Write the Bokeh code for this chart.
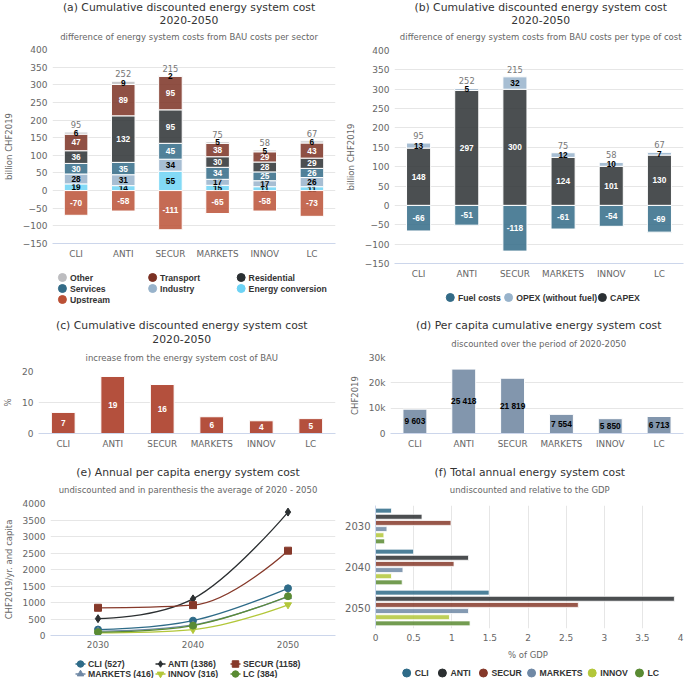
import numpy as np
from bokeh.plotting import figure
from bokeh.layouts import column, row
from bokeh.models import (ColumnDataSource, FactorRange, Range1d,
                          FixedTicker, CustomJSTickFormatter)
from bokeh.transform import dodge
from bokeh.core.properties import value
from bokeh.embed import file_html
from bokeh.resources import INLINE

# ---------------- data ----------------
scenarios = ["CLI", "ANTI", "SECUR", "MARKETS", "INNOV", "LC"]

# (a) difference from BAU per sector, billion CHF2019
energy_conversion = [19, 14, 55, 15, 11, 11]
industry = [28, 31, 34, 17, 17, 26]
services = [30, 35, 45, 34, 25, 26]
residential = [36, 132, 95, 30, 28, 29]
transport = [47, 89, 95, 38, 29, 43]
other = [6, 9, 2, 5, 5, 6]
upstream = [-70, -58, -111, -65, -58, -73]
totals = [95, 252, 215, 75, 58, 67]

# (b) difference from BAU per type of cost
capex = [148, 297, 300, 124, 101, 130]
opex = [13, 5, 32, 12, 10, 7]
fuel_costs = [-66, -51, -118, -61, -54, -69]

# (c) increase from BAU, %
increase_pct = [6.8, 18.4, 15.8, 5.4, 4.1, 4.8]
increase_labels = ["7", "19", "16", "6", "4", "5"]

# (d) per capita cumulative cost, CHF2019
per_capita = [9603, 25418, 21819, 7554, 5850, 6713]

# (e) annual per capita cost, CHF2019/yr
years = [2030, 2040, 2050]
annual_cli = [180, 450, 1430]
annual_anti = [510, 1110, 3740]
annual_secur = [840, 920, 2570]
annual_markets = [130, 320, 1180]
annual_innov = [80, 180, 930]
annual_lc = [100, 300, 1190]
avg_2020_2050 = [527, 1386, 1158, 416, 316, 384]

# (f) total annual cost, % of GDP
year_labels = ["2030", "2040", "2050"]
gdp_2030 = [0.21, 0.61, 0.99, 0.15, 0.11, 0.12]
gdp_2040 = [0.50, 1.22, 1.03, 0.36, 0.21, 0.35]
gdp_2050 = [1.49, 3.92, 2.66, 1.22, 0.97, 1.24]

# ---------------- style ----------------
FONT = "DejaVu Sans"
LBLFONT = "Liberation Sans"
GRID = "#e6e6e6"
LAB = "#666666"
DARK = "#333333"

C_OTHER = "#bdbdc0"
C_TRANSPORT = "#7b3123"
C_RESID = "#2b3033"
C_SERV = "#336b87"
C_IND = "#98b3cb"
C_EC = "#6dd3f5"
C_UP = "#bb5136"
BAR_ALPHA = 0.85

SC_COLORS = ["#2e6b88", "#2b2f31", "#86392a", "#6f88a5", "#b3c73a", "#5a8b33"]
SC_MARKERS = ["circle", "diamond", "square", "triangle", "inverted_triangle", "circle"]

W_L, W_R = 342, 342
CX_L, CX_R = 165, 173


def blank_fig(width, height):
    f = figure(width=width, height=height, x_range=Range1d(0, width), y_range=Range1d(height, 0),
               output_backend="svg", toolbar_location=None, min_border=0,
               x_axis_location=None, y_axis_location=None, title=None)
    f.grid.visible = False
    f.outline_line_color = None
    return f


def header_fig(width, height, cx, lines):
    """Title and subtitle lines, centred over the whole panel."""
    h = blank_fig(width, height)
    for text, y, size, color in lines:
        h.text(x=[cx], y=[y], text=[text], text_align="center", text_baseline="middle",
               text_color=color, text_font=value(FONT), text_font_size=value(size))
    return h


def title_lines(t1, t2, sub, ys):
    out = [(t1, ys[0], "10.8px", DARK)]
    if t2:
        out.append((t2, ys[1], "10.8px", DARK))
    out.append((sub, ys[-1], "8.5px", LAB))
    return out


def legend_fig(width, height, entries, xs, ys, with_line=False):
    lf = blank_fig(width, height)
    src = ColumnDataSource(dict(x=xs, y=ys, tx=[x + 9 for x in xs],
                                x0=[x - 6 for x in xs], x1=[x + 6 for x in xs],
                                label=[e[0] for e in entries], color=[e[1] for e in entries],
                                marker=[e[2] for e in entries]))
    if with_line:
        lf.segment(x0="x0", y0="y", x1="x1", y1="y", color="color", line_width=1.5, source=src)
    lf.scatter(x="x", y="y", marker="marker", size=8 if not with_line else 6.5,
               fill_color="color", line_color="color", source=src)
    lf.text(x="tx", y="y", text="label", source=src, text_align="left", text_baseline="middle",
            text_color=DARK, text_font=value(LBLFONT), text_font_size=value("8.7px"),
            text_font_style="bold")
    return lf


def make_fig(width, height, x_range, y_range, left=3, right=6, top=5):
    p = figure(width=width, height=height, x_range=x_range, y_range=y_range, title=None,
               output_backend="svg", toolbar_location=None)
    p.outline_line_color = None
    p.min_border_top = top
    p.min_border_bottom = 0
    p.min_border_left = left
    p.min_border_right = right
    for ax in p.xaxis + p.yaxis:
        ax.major_label_text_font = FONT
        ax.major_label_text_font_size = "9px"
        ax.major_label_text_color = LAB
        ax.axis_label_text_font = FONT
        ax.axis_label_text_font_size = "8.5px"
        ax.axis_label_text_font_style = "normal"
        ax.axis_label_text_color = LAB
        ax.major_tick_line_color = None
        ax.minor_tick_line_color = None
        ax.major_tick_out = 0
        ax.major_tick_in = 0
        ax.minor_tick_out = 0
        ax.major_label_standoff = 5
        ax.axis_label_standoff = 6
    p.xaxis.major_label_text_font_size = "8.8px"
    p.yaxis.axis_line_color = None
    p.xaxis.axis_line_color = "#ccd6eb"
    p.xgrid.grid_line_color = None
    p.ygrid.grid_line_color = GRID
    return p


def stacked_bars(p, series, colors, text_colors, width=0.5):
    pos_base = np.zeros(len(scenarios))
    neg_base = np.zeros(len(scenarios))
    for vals, col, tcol in zip(series, colors, text_colors):
        v = np.array(vals, dtype=float)
        bottom = np.where(v >= 0, pos_base, neg_base + v)
        top = np.where(v >= 0, pos_base + v, neg_base)
        src = ColumnDataSource(dict(x=scenarios, bottom=bottom, top=top,
                                    mid=(bottom + top) / 2, lbl=[str(int(a)) for a in vals]))
        p.vbar(x="x", bottom="bottom", top="top", width=width, source=src,
               fill_color=col, fill_alpha=BAR_ALPHA, line_color="white", line_width=1)
        p.text(x="x", y="mid", text="lbl", source=src, text_align="center",
               text_baseline="middle", text_color=tcol, text_font=value(LBLFONT),
               text_font_size=value("8.3px"), text_font_style="bold")
        pos_base = np.where(v >= 0, pos_base + v, pos_base)
        neg_base = np.where(v < 0, neg_base + v, neg_base)
    return pos_base


def total_labels(p, tops, labels):
    src = ColumnDataSource(dict(x=scenarios, y=tops, lbl=[str(t) for t in labels]))
    p.text(x="x", y="y", text="lbl", source=src, text_align="center", text_baseline="bottom",
           y_offset=-4, text_color="#777777", text_font=value(FONT),
           text_font_size=value("8.3px"))


# ---------------- (a) ----------------
head_a = header_fig(W_L, 44, CX_L, title_lines("(a) Cumulative discounted energy system cost", "2020-2050",
                                               "difference of energy system costs from BAU costs per sector",
                                               [6.5, 19, 36]))
pa = make_fig(W_L, 217, FactorRange(*scenarios), Range1d(-150, 400), right=7)
pa.yaxis.ticker = FixedTicker(ticks=list(range(-150, 401, 50)))
pa.yaxis.axis_label = "billion CHF2019"
tops_a = stacked_bars(pa, [energy_conversion, industry, services, residential, transport, other, upstream],
                      [C_EC, C_IND, C_SERV, C_RESID, C_TRANSPORT, C_OTHER, C_UP],
                      ["black", "black", "white", "white", "white", "black", "white"])
total_labels(pa, tops_a, totals)
leg_a = legend_fig(W_L, 43,
                   [("Other", C_OTHER, "circle"), ("Transport", C_TRANSPORT, "circle"),
                    ("Residential", C_RESID, "circle"), ("Services", C_SERV, "circle"),
                    ("Industry", C_IND, "circle"), ("Energy conversion", C_EC, "circle"),
                    ("Upstream", C_UP, "circle")],
                   [12, 121, 228, 12, 121, 228, 12], [16, 16, 16, 27, 27, 27, 38])

# ---------------- (b) ----------------
head_b = header_fig(W_R, 44, CX_R, title_lines("(b) Cumulative discounted energy system cost", "2020-2050",
                                               "difference of energy system costs from BAU costs per type of cost",
                                               [6.5, 19, 36]))
pb = make_fig(W_R, 237, FactorRange(*scenarios), Range1d(-150, 400), left=51, right=1, top=6)
pb.yaxis.ticker = FixedTicker(ticks=list(range(-150, 401, 50)))
pb.yaxis.axis_label = "billion CHF2019"
tops_b = stacked_bars(pb, [capex, opex, fuel_costs], [C_RESID, C_IND, C_SERV],
                      ["white", "black", "white"])
total_labels(pb, tops_b, totals)
leg_b = legend_fig(W_R, 23,
                   [("Fuel costs", C_SERV, "circle"), ("OPEX (without fuel)", C_IND, "circle"),
                    ("CAPEX", C_RESID, "circle")],
                   [66, 135, 246], [16, 16, 16])

# ---------------- (c) ----------------
head_c = header_fig(W_L, 62, CX_L, title_lines("(c) Cumulative discounted energy system cost", "2020-2050",
                                               "increase from the energy system cost of BAU",
                                               [21, 34, 53]))
pc = make_fig(W_L, 85, FactorRange(*scenarios), Range1d(0, 20), right=7)
pc.yaxis.ticker = FixedTicker(ticks=[0, 10, 20])
pc.yaxis.axis_label = "%"
src_c = ColumnDataSource(dict(x=scenarios, top=increase_pct, mid=[v / 2 for v in increase_pct],
                              lbl=increase_labels))
pc.vbar(x="x", top="top", width=0.48, source=src_c, fill_color="#b4503d", line_color="white")
pc.text(x="x", y="mid", text="lbl", source=src_c, text_align="center", text_baseline="middle",
        text_color="white", text_font=value(LBLFONT), text_font_size=value("8.3px"),
        text_font_style="bold")

# ---------------- (d) ----------------
head_d = header_fig(W_R, 48, CX_R, title_lines("(d) Per capita cumulative energy system cost", None,
                                               "discounted over the period of 2020-2050",
                                               [21, 39]))
pd_ = make_fig(W_R, 99, FactorRange(*scenarios), Range1d(0, 30000), left=48, right=1)
pd_.yaxis.ticker = FixedTicker(ticks=[0, 10000, 20000, 30000])
pd_.yaxis.formatter = CustomJSTickFormatter(code="return tick == 0 ? '0' : (tick/1000) + 'k';")
pd_.yaxis.axis_label = "CHF2019"
src_d = ColumnDataSource(dict(x=scenarios, top=per_capita, mid=[v / 2 for v in per_capita],
                              lbl=[f"{v:,}".replace(",", " ") for v in per_capita]))
pd_.vbar(x="x", top="top", width=0.49, source=src_d, fill_color="#8296ad", line_color="white")
pd_.text(x="x", y="mid", text="lbl", source=src_d, text_align="center", text_baseline="middle",
         text_color="black", text_font=value(LBLFONT), text_font_size=value("8.3px"),
         text_font_style="bold")

# ---------------- (e) ----------------
head_e = header_fig(W_L, 47, CX_L, title_lines("(e) Annual per capita energy system cost", None,
                                               "undiscounted and in parenthesis the average of 2020 - 2050",
                                               [21, 38]))
pe = make_fig(W_L, 152, Range1d(2025, 2055), Range1d(0, 4000), right=7)
pe.yaxis.ticker = FixedTicker(ticks=list(range(0, 4001, 500)))
pe.xaxis.ticker = FixedTicker(ticks=years)
pe.yaxis.axis_label = "CHF2019/yr. and capita"


def spline_segments(xs, ys, smoothing=1.5):
    n = len(xs)
    lcx, lcy = list(map(float, xs)), list(map(float, ys))
    rcx, rcy = list(map(float, xs)), list(map(float, ys))
    d = smoothing + 1
    for i in range(1, n - 1):
        px, py = xs[i], ys[i]
        lx, ly, nx, ny = xs[i - 1], ys[i - 1], xs[i + 1], ys[i + 1]
        lX = (smoothing * px + lx) / d
        lY = (smoothing * py + ly) / d
        rX = (smoothing * px + nx) / d
        rY = (smoothing * py + ny) / d
        if rX != lX:
            corr = ((rY - lY) * (rX - px)) / (rX - lX) + py - rY
            lY += corr
            rY += corr
        if lY > ly and lY > py:
            lY = max(ly, py); rY = 2 * py - lY
        elif lY < ly and lY < py:
            lY = min(ly, py); rY = 2 * py - lY
        if rY > ny and rY > py:
            rY = max(ny, py); lY = 2 * py - rY
        elif rY < ny and rY < py:
            rY = min(ny, py); lY = 2 * py - rY
        lcx[i], lcy[i], rcx[i], rcy[i] = lX, lY, rX, rY
    return dict(x0=xs[:-1], y0=ys[:-1], x1=xs[1:], y1=ys[1:],
                cx0=rcx[:-1], cy0=rcy[:-1], cx1=lcx[1:], cy1=lcy[1:])


annual_series = [annual_cli, annual_anti, annual_secur, annual_markets, annual_innov, annual_lc]
for vals, col, mk in zip(annual_series, SC_COLORS, SC_MARKERS):
    pe.bezier(source=ColumnDataSource(spline_segments(years, vals)), x0="x0", y0="y0", x1="x1",
              y1="y1", cx0="cx0", cy0="cy0", cx1="cx1", cy1="cy1", line_color=col, line_width=1.3)
    pe.scatter(x=years, y=vals, marker=mk, size=7 if mk != "diamond" else 8,
               fill_color=col, line_color=col)
leg_e = legend_fig(W_L, 28,
                   [(f"{s} ({a})", c, m) for s, a, c, m in
                    zip(scenarios, avg_2020_2050, SC_COLORS, SC_MARKERS)],
                   [36, 132, 222, 36, 132, 222], [13.5, 13.5, 13.5, 23.5, 23.5, 23.5], with_line=True)

# ---------------- (f) ----------------
head_f = header_fig(W_R, 47, CX_R, title_lines("(f) Total annual energy system cost", None,
                                               "undiscounted and relative to the GDP",
                                               [21, 38]))
pf = make_fig(W_R, 164, Range1d(0, 4), FactorRange(*reversed(year_labels)), left=6, right=4, top=7)
pf.xaxis.ticker = FixedTicker(ticks=[i * 0.5 for i in range(9)])
pf.xaxis.formatter = CustomJSTickFormatter(code="return tick.toString();")
pf.xaxis.axis_label = "% of GDP"
pf.xaxis.major_label_text_font_size = "9px"
pf.xgrid.grid_line_color = GRID
pf.ygrid.grid_line_color = None
pf.xaxis.axis_line_color = None
pf.yaxis.axis_line_color = "#ccd6eb"
pf.yaxis.major_label_text_font_size = "10px"
src_f = {"year": year_labels}
for s, a, b, c in zip(scenarios, gdp_2030, gdp_2040, gdp_2050):
    src_f[s] = [a, b, c]
src_f = ColumnDataSource(src_f)
pitch = 0.15
for i, (s, col) in enumerate(zip(scenarios, SC_COLORS)):
    off = (2.5 - i) * pitch
    pf.hbar(y=dodge("year", off, range=pf.y_range), right=s, left=0, height=0.12, source=src_f,
            fill_color=col, fill_alpha=BAR_ALPHA, line_color="white", line_width=0.8)
leg_f = legend_fig(W_R, 16, [(s, c, "circle") for s, c in zip(scenarios, SC_COLORS)],
                   [35, 75, 121, 175, 243, 296], [10.5] * 6)

layout = column(row(column(head_a, pa, leg_a), column(head_b, pb, leg_b)),
                row(column(head_c, pc), column(head_d, pd_)),
                row(column(head_e, pe, leg_e), column(head_f, pf, leg_f)))
open("out.html", "w").write(file_html(layout, INLINE))
